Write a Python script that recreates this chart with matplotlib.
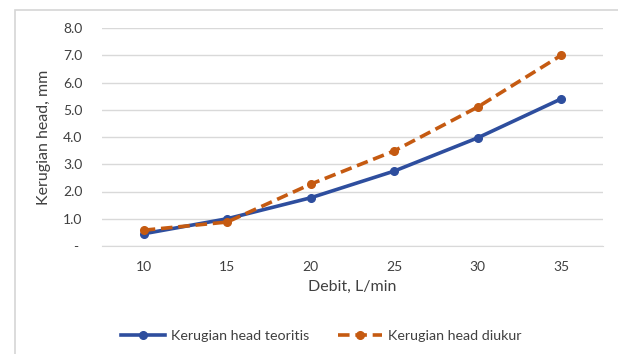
import matplotlib.pyplot as plt
from matplotlib.patches import Rectangle

# data
debit = ['10', '15', '20', '25', '30', '35']
head_teoritis = [0.45, 1.0, 1.77, 2.75, 3.97, 5.4]
head_diukur = [0.58, 0.88, 2.27, 3.49, 5.1, 7.0]
y_ticks = [0, 1, 2, 3, 4, 5, 6, 7, 8]
y_labels = ['- ', '1.0', '2.0', '3.0', '4.0', '5.0', '6.0', '7.0', '8.0']

plt.rcParams['font.family'] = ['Lato', 'DejaVu Sans']
blue = '#2E4E9E'
orange = '#C55A11'
grey_txt = '#404040'

fig = plt.figure(figsize=(6.18, 3.54), dpi=100)
ax = fig.add_axes([102 / 618, 1 - 246 / 354, 501 / 618, 218 / 354])

# outer chart frame (continues past right and bottom edge)
fig.patches.append(Rectangle((15 / 618, -0.2), 1.2, 1 - 10 / 354 + 0.2,
                             transform=fig.transFigure, fill=False,
                             edgecolor='#D6D6D6', linewidth=1.2))

x = list(range(len(debit)))
ax.plot(x, head_teoritis, color=blue, lw=2.6, marker='o', ms=5.5,
        label='Kerugian head teoritis', zorder=3)
ax.plot(x, head_diukur, color=orange, lw=2.6, ls=(0, (3.2, 1.6)), marker='o', ms=5.5,
        label='Kerugian head diukur', zorder=4)

ax.set_xlim(-0.5, 5.5)
ax.set_ylim(0, 8)
ax.set_xticks(x)
ax.set_xticklabels(debit)
ax.set_yticks(y_ticks)
ax.set_yticklabels(y_labels)
ax.grid(axis='y', color='#D9D9D9', lw=1)
ax.set_axisbelow(True)
for s in ['top', 'right', 'left']:
    ax.spines[s].set_visible(False)
ax.spines['bottom'].set_color('#D9D9D9')
ax.tick_params(length=0, labelsize=10, colors=grey_txt, pad=11)
ax.tick_params(axis='y', pad=14)

ax.set_xlabel('Debit, L/min', fontsize=11.5, color=grey_txt, labelpad=5)
ax.set_ylabel('Kerugian head, mm', fontsize=11.5, color=grey_txt, labelpad=9)

fig.legend(loc='center', bbox_to_anchor=(321 / 618, 1 - 336 / 354), ncol=2,
           frameon=False, fontsize=10.3, handlelength=3.1, columnspacing=2.0,
           handletextpad=0.4, labelcolor=grey_txt)

fig.savefig('out.png', dpi=100)
